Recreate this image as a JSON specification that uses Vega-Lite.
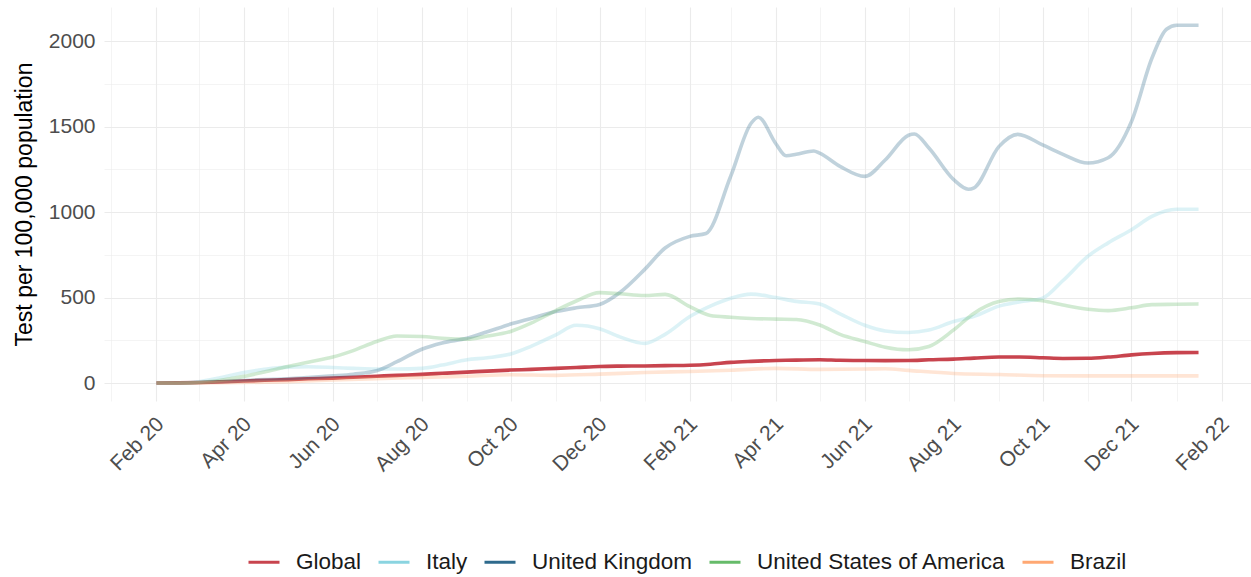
{
  "$schema": "https://vega.github.io/schema/vega-lite/v6.json",
  "width": 1147,
  "height": 394,
  "autosize": {"type": "none"},
  "padding": {"left": 104, "top": 7, "right": 0, "bottom": 176},
  "background": "white",
  "config": {"view": {"stroke": null}, "font": "Liberation Sans"},
  "data": {"values": [
    {"date":"2020-02-01","country":"Global","value":0},
    {"date":"2020-02-15","country":"Global","value":1},
    {"date":"2020-03-01","country":"Global","value":3},
    {"date":"2020-03-15","country":"Global","value":7},
    {"date":"2020-04-01","country":"Global","value":12},
    {"date":"2020-04-15","country":"Global","value":16},
    {"date":"2020-05-01","country":"Global","value":20},
    {"date":"2020-05-15","country":"Global","value":25},
    {"date":"2020-06-01","country":"Global","value":29},
    {"date":"2020-06-15","country":"Global","value":34},
    {"date":"2020-07-01","country":"Global","value":40},
    {"date":"2020-07-15","country":"Global","value":45},
    {"date":"2020-08-01","country":"Global","value":51},
    {"date":"2020-08-15","country":"Global","value":57},
    {"date":"2020-09-01","country":"Global","value":64},
    {"date":"2020-09-15","country":"Global","value":70},
    {"date":"2020-10-01","country":"Global","value":76},
    {"date":"2020-10-15","country":"Global","value":80},
    {"date":"2020-11-01","country":"Global","value":86},
    {"date":"2020-11-15","country":"Global","value":91},
    {"date":"2020-12-01","country":"Global","value":97},
    {"date":"2020-12-15","country":"Global","value":99},
    {"date":"2021-01-01","country":"Global","value":100},
    {"date":"2021-01-15","country":"Global","value":102},
    {"date":"2021-02-01","country":"Global","value":104},
    {"date":"2021-02-15","country":"Global","value":110},
    {"date":"2021-03-01","country":"Global","value":121},
    {"date":"2021-03-15","country":"Global","value":127},
    {"date":"2021-04-01","country":"Global","value":132},
    {"date":"2021-04-15","country":"Global","value":134},
    {"date":"2021-05-01","country":"Global","value":136},
    {"date":"2021-05-15","country":"Global","value":133},
    {"date":"2021-06-01","country":"Global","value":132},
    {"date":"2021-06-15","country":"Global","value":131},
    {"date":"2021-07-01","country":"Global","value":132},
    {"date":"2021-07-15","country":"Global","value":136},
    {"date":"2021-08-01","country":"Global","value":140},
    {"date":"2021-08-15","country":"Global","value":146},
    {"date":"2021-09-01","country":"Global","value":152},
    {"date":"2021-09-15","country":"Global","value":152},
    {"date":"2021-10-01","country":"Global","value":148},
    {"date":"2021-10-15","country":"Global","value":144},
    {"date":"2021-11-01","country":"Global","value":145},
    {"date":"2021-11-15","country":"Global","value":152},
    {"date":"2021-12-01","country":"Global","value":165},
    {"date":"2021-12-15","country":"Global","value":173},
    {"date":"2022-01-01","country":"Global","value":178},
    {"date":"2022-01-16","country":"Global","value":179},

    {"date":"2020-02-01","country":"Italy","value":0},
    {"date":"2020-02-15","country":"Italy","value":0},
    {"date":"2020-03-01","country":"Italy","value":8},
    {"date":"2020-03-15","country":"Italy","value":30},
    {"date":"2020-04-01","country":"Italy","value":62},
    {"date":"2020-04-15","country":"Italy","value":80},
    {"date":"2020-05-01","country":"Italy","value":93},
    {"date":"2020-05-15","country":"Italy","value":95},
    {"date":"2020-06-01","country":"Italy","value":91},
    {"date":"2020-06-15","country":"Italy","value":86},
    {"date":"2020-07-01","country":"Italy","value":82},
    {"date":"2020-07-15","country":"Italy","value":82},
    {"date":"2020-08-01","country":"Italy","value":86},
    {"date":"2020-08-15","country":"Italy","value":105},
    {"date":"2020-09-01","country":"Italy","value":136},
    {"date":"2020-09-15","country":"Italy","value":148},
    {"date":"2020-10-01","country":"Italy","value":170},
    {"date":"2020-10-15","country":"Italy","value":215},
    {"date":"2020-11-01","country":"Italy","value":282},
    {"date":"2020-11-15","country":"Italy","value":338},
    {"date":"2020-12-01","country":"Italy","value":318},
    {"date":"2020-12-15","country":"Italy","value":270},
    {"date":"2021-01-01","country":"Italy","value":232},
    {"date":"2021-01-15","country":"Italy","value":285},
    {"date":"2021-02-01","country":"Italy","value":389},
    {"date":"2021-02-15","country":"Italy","value":450},
    {"date":"2021-03-01","country":"Italy","value":496},
    {"date":"2021-03-15","country":"Italy","value":520},
    {"date":"2021-04-01","country":"Italy","value":500},
    {"date":"2021-04-15","country":"Italy","value":478},
    {"date":"2021-05-01","country":"Italy","value":462},
    {"date":"2021-05-15","country":"Italy","value":405},
    {"date":"2021-06-01","country":"Italy","value":338},
    {"date":"2021-06-15","country":"Italy","value":305},
    {"date":"2021-07-01","country":"Italy","value":296},
    {"date":"2021-07-15","country":"Italy","value":310},
    {"date":"2021-08-01","country":"Italy","value":360},
    {"date":"2021-08-15","country":"Italy","value":390},
    {"date":"2021-09-01","country":"Italy","value":450},
    {"date":"2021-09-15","country":"Italy","value":475},
    {"date":"2021-10-01","country":"Italy","value":497},
    {"date":"2021-10-15","country":"Italy","value":600},
    {"date":"2021-11-01","country":"Italy","value":741},
    {"date":"2021-11-15","country":"Italy","value":820},
    {"date":"2021-12-01","country":"Italy","value":897},
    {"date":"2021-12-15","country":"Italy","value":975},
    {"date":"2022-01-01","country":"Italy","value":1017},
    {"date":"2022-01-16","country":"Italy","value":1017},

    {"date":"2020-02-01","country":"United Kingdom","value":0},
    {"date":"2020-02-15","country":"United Kingdom","value":0},
    {"date":"2020-03-01","country":"United Kingdom","value":3},
    {"date":"2020-03-15","country":"United Kingdom","value":8},
    {"date":"2020-04-01","country":"United Kingdom","value":15},
    {"date":"2020-04-15","country":"United Kingdom","value":20},
    {"date":"2020-05-01","country":"United Kingdom","value":25},
    {"date":"2020-05-15","country":"United Kingdom","value":32},
    {"date":"2020-06-01","country":"United Kingdom","value":42},
    {"date":"2020-06-15","country":"United Kingdom","value":52},
    {"date":"2020-07-01","country":"United Kingdom","value":72},
    {"date":"2020-07-15","country":"United Kingdom","value":125},
    {"date":"2020-08-01","country":"United Kingdom","value":198},
    {"date":"2020-08-15","country":"United Kingdom","value":235},
    {"date":"2020-09-01","country":"United Kingdom","value":262},
    {"date":"2020-09-15","country":"United Kingdom","value":300},
    {"date":"2020-10-01","country":"United Kingdom","value":345},
    {"date":"2020-10-15","country":"United Kingdom","value":378},
    {"date":"2020-11-01","country":"United Kingdom","value":418},
    {"date":"2020-11-15","country":"United Kingdom","value":440},
    {"date":"2020-12-01","country":"United Kingdom","value":460},
    {"date":"2020-12-15","country":"United Kingdom","value":530},
    {"date":"2021-01-01","country":"United Kingdom","value":665},
    {"date":"2021-01-15","country":"United Kingdom","value":790},
    {"date":"2021-02-01","country":"United Kingdom","value":858},
    {"date":"2021-02-12","country":"United Kingdom","value":875},
    {"date":"2021-03-01","country":"United Kingdom","value":1210},
    {"date":"2021-03-15","country":"United Kingdom","value":1520},
    {"date":"2021-03-20","country":"United Kingdom","value":1555},
    {"date":"2021-04-01","country":"United Kingdom","value":1400},
    {"date":"2021-04-08","country":"United Kingdom","value":1330},
    {"date":"2021-04-15","country":"United Kingdom","value":1338},
    {"date":"2021-04-27","country":"United Kingdom","value":1358},
    {"date":"2021-05-01","country":"United Kingdom","value":1345},
    {"date":"2021-05-15","country":"United Kingdom","value":1268},
    {"date":"2021-06-01","country":"United Kingdom","value":1209},
    {"date":"2021-06-15","country":"United Kingdom","value":1305},
    {"date":"2021-07-01","country":"United Kingdom","value":1450},
    {"date":"2021-07-05","country":"United Kingdom","value":1457},
    {"date":"2021-07-15","country":"United Kingdom","value":1375},
    {"date":"2021-08-01","country":"United Kingdom","value":1190},
    {"date":"2021-08-11","country":"United Kingdom","value":1134},
    {"date":"2021-08-15","country":"United Kingdom","value":1142},
    {"date":"2021-09-01","country":"United Kingdom","value":1383},
    {"date":"2021-09-14","country":"United Kingdom","value":1455},
    {"date":"2021-10-01","country":"United Kingdom","value":1393},
    {"date":"2021-10-15","country":"United Kingdom","value":1338},
    {"date":"2021-11-01","country":"United Kingdom","value":1287},
    {"date":"2021-11-15","country":"United Kingdom","value":1318},
    {"date":"2021-12-01","country":"United Kingdom","value":1530},
    {"date":"2021-12-15","country":"United Kingdom","value":1900},
    {"date":"2021-12-25","country":"United Kingdom","value":2070},
    {"date":"2022-01-01","country":"United Kingdom","value":2093},
    {"date":"2022-01-16","country":"United Kingdom","value":2093},

    {"date":"2020-02-01","country":"United States of America","value":0},
    {"date":"2020-02-15","country":"United States of America","value":0},
    {"date":"2020-03-01","country":"United States of America","value":3},
    {"date":"2020-03-15","country":"United States of America","value":15},
    {"date":"2020-04-01","country":"United States of America","value":39},
    {"date":"2020-04-15","country":"United States of America","value":65},
    {"date":"2020-05-01","country":"United States of America","value":97},
    {"date":"2020-05-15","country":"United States of America","value":122},
    {"date":"2020-06-01","country":"United States of America","value":152},
    {"date":"2020-06-15","country":"United States of America","value":190},
    {"date":"2020-07-01","country":"United States of America","value":243},
    {"date":"2020-07-15","country":"United States of America","value":275},
    {"date":"2020-08-01","country":"United States of America","value":272},
    {"date":"2020-08-15","country":"United States of America","value":262},
    {"date":"2020-09-01","country":"United States of America","value":257},
    {"date":"2020-09-15","country":"United States of America","value":275},
    {"date":"2020-10-01","country":"United States of America","value":302},
    {"date":"2020-10-15","country":"United States of America","value":350},
    {"date":"2020-11-01","country":"United States of America","value":424},
    {"date":"2020-11-15","country":"United States of America","value":480},
    {"date":"2020-12-01","country":"United States of America","value":529},
    {"date":"2020-12-15","country":"United States of America","value":522},
    {"date":"2021-01-01","country":"United States of America","value":512},
    {"date":"2021-01-15","country":"United States of America","value":519},
    {"date":"2021-02-01","country":"United States of America","value":447},
    {"date":"2021-02-15","country":"United States of America","value":395},
    {"date":"2021-03-01","country":"United States of America","value":385},
    {"date":"2021-03-15","country":"United States of America","value":378},
    {"date":"2021-04-01","country":"United States of America","value":374},
    {"date":"2021-04-15","country":"United States of America","value":372},
    {"date":"2021-05-01","country":"United States of America","value":340},
    {"date":"2021-05-15","country":"United States of America","value":285},
    {"date":"2021-06-01","country":"United States of America","value":243},
    {"date":"2021-06-15","country":"United States of America","value":210},
    {"date":"2021-07-01","country":"United States of America","value":195},
    {"date":"2021-07-15","country":"United States of America","value":214},
    {"date":"2021-08-01","country":"United States of America","value":311},
    {"date":"2021-08-15","country":"United States of America","value":409},
    {"date":"2021-09-01","country":"United States of America","value":477},
    {"date":"2021-09-15","country":"United States of America","value":492},
    {"date":"2021-10-01","country":"United States of America","value":482},
    {"date":"2021-10-15","country":"United States of America","value":457},
    {"date":"2021-11-01","country":"United States of America","value":432},
    {"date":"2021-11-15","country":"United States of America","value":424},
    {"date":"2021-12-01","country":"United States of America","value":440},
    {"date":"2021-12-15","country":"United States of America","value":459},
    {"date":"2022-01-01","country":"United States of America","value":461},
    {"date":"2022-01-16","country":"United States of America","value":463},

    {"date":"2020-02-01","country":"Brazil","value":0},
    {"date":"2020-03-01","country":"Brazil","value":1},
    {"date":"2020-04-01","country":"Brazil","value":3},
    {"date":"2020-05-01","country":"Brazil","value":8},
    {"date":"2020-06-01","country":"Brazil","value":18},
    {"date":"2020-07-01","country":"Brazil","value":26},
    {"date":"2020-08-01","country":"Brazil","value":33},
    {"date":"2020-09-01","country":"Brazil","value":40},
    {"date":"2020-10-01","country":"Brazil","value":49},
    {"date":"2020-11-01","country":"Brazil","value":45},
    {"date":"2020-12-01","country":"Brazil","value":52},
    {"date":"2021-01-01","country":"Brazil","value":62},
    {"date":"2021-02-01","country":"Brazil","value":68},
    {"date":"2021-03-01","country":"Brazil","value":75},
    {"date":"2021-04-01","country":"Brazil","value":86},
    {"date":"2021-05-01","country":"Brazil","value":80},
    {"date":"2021-06-01","country":"Brazil","value":82},
    {"date":"2021-06-15","country":"Brazil","value":84},
    {"date":"2021-07-01","country":"Brazil","value":74},
    {"date":"2021-08-01","country":"Brazil","value":56},
    {"date":"2021-09-01","country":"Brazil","value":50},
    {"date":"2021-10-01","country":"Brazil","value":43},
    {"date":"2021-11-01","country":"Brazil","value":42},
    {"date":"2021-12-01","country":"Brazil","value":42},
    {"date":"2022-01-01","country":"Brazil","value":42},
    {"date":"2022-01-16","country":"Brazil","value":42}
  ]},
  "layer": [
    {
      "transform": [{"filter": "datum.country === 'Global'"}],
      "mark": {"type": "line", "interpolate": "monotone", "strokeWidth": 3.6},
      "encoding": {
        "x": {
          "field": "date", "type": "temporal",
          "scale": {"type": "utc", "domain": [{"year": 2019, "month": 12, "date": 27, "utc": true}, {"year": 2022, "month": 2, "date": 21, "utc": true}]},
          "axis": {
            "orient": "bottom", "title": null, "format": "%b %y",
            "values": [
              {"year": 2020, "month": 2, "date": 1, "utc": true},
              {"year": 2020, "month": 4, "date": 1, "utc": true},
              {"year": 2020, "month": 6, "date": 1, "utc": true},
              {"year": 2020, "month": 8, "date": 1, "utc": true},
              {"year": 2020, "month": 10, "date": 1, "utc": true},
              {"year": 2020, "month": 12, "date": 1, "utc": true},
              {"year": 2021, "month": 2, "date": 1, "utc": true},
              {"year": 2021, "month": 4, "date": 1, "utc": true},
              {"year": 2021, "month": 6, "date": 1, "utc": true},
              {"year": 2021, "month": 8, "date": 1, "utc": true},
              {"year": 2021, "month": 10, "date": 1, "utc": true},
              {"year": 2021, "month": 12, "date": 1, "utc": true},
              {"year": 2022, "month": 2, "date": 1, "utc": true}
            ],
            "labelAngle": -45, "labelAlign": "right", "labelBaseline": "top",
            "labelFontSize": 21, "labelColor": "#4D4D4D", "labelFont": "Liberation Sans",
            "labelPadding": 12, "labelOffset": -4, "labelOverlap": false, "labelFlush": false, "labelBound": false,
            "ticks": false, "domain": false,
            "grid": true, "gridColor": "#EBEBEB", "gridWidth": 1.1
          }
        },
        "y": {
          "field": "value", "type": "quantitative",
          "scale": {"domain": [-105, 2200], "nice": false, "zero": false},
          "axis": {
            "orient": "left", "title": "Test per 100,000 population", "format": "d",
            "values": [0, 500, 1000, 1500, 2000],
            "labelFontSize": 21, "labelColor": "#4D4D4D", "labelFont": "Liberation Sans", "labelPadding": 9,
            "titleFontSize": 23, "titleColor": "#000000", "titleFont": "Liberation Sans", "titleFontWeight": "normal", "titlePadding": 12,
            "ticks": false, "domain": false,
            "grid": true, "gridColor": "#EBEBEB", "gridWidth": 1.1
          }
        },
        "color": {
          "field": "country", "type": "nominal",
          "scale": {
            "domain": ["Global", "Italy", "United Kingdom", "United States of America", "Brazil"],
            "range": ["#C8444E", "#8AD4E0", "#2E6A8C", "#66BB6A", "#FFA873"]
          },
          "legend": {
            "orient": "none", "legendX": 143, "legendY": 538, "direction": "horizontal", "columns": 5,
            "title": null, "symbolType": "stroke", "symbolSize": 961, "symbolStrokeWidth": 3, "symbolOpacity": 1,
            "labelFontSize": 22.5, "labelColor": "#1A1A1A", "labelFont": "Liberation Sans", "labelOffset": 15,
            "labelLimit": 400, "columnPadding": 10,
            "encode": {"symbols": {"update": {"opacity": {"value": 1}, "strokeOpacity": {"value": 1}}}}
          }
        }
      }
    },
    {
      "transform": [{"filter": "datum.country !== 'Global'"}],
      "mark": {"type": "line", "interpolate": "monotone", "strokeWidth": 3.6, "opacity": 0.3},
      "encoding": {
        "x": {
          "field": "date", "type": "temporal",
          "scale": {"type": "utc", "domain": [{"year": 2019, "month": 12, "date": 27, "utc": true}, {"year": 2022, "month": 2, "date": 21, "utc": true}]},
          "axis": {
            "orient": "bottom", "title": null, "labels": false, "ticks": false, "domain": false,
            "values": [
              {"year": 2020, "month": 1, "date": 1, "utc": true},
              {"year": 2020, "month": 3, "date": 1, "utc": true},
              {"year": 2020, "month": 5, "date": 1, "utc": true},
              {"year": 2020, "month": 7, "date": 1, "utc": true},
              {"year": 2020, "month": 9, "date": 1, "utc": true},
              {"year": 2020, "month": 11, "date": 1, "utc": true},
              {"year": 2021, "month": 1, "date": 1, "utc": true},
              {"year": 2021, "month": 3, "date": 1, "utc": true},
              {"year": 2021, "month": 5, "date": 1, "utc": true},
              {"year": 2021, "month": 7, "date": 1, "utc": true},
              {"year": 2021, "month": 9, "date": 1, "utc": true},
              {"year": 2021, "month": 11, "date": 1, "utc": true},
              {"year": 2022, "month": 1, "date": 1, "utc": true}
            ],
            "grid": true, "gridColor": "#EBEBEB", "gridWidth": 0.55
          }
        },
        "y": {
          "field": "value", "type": "quantitative",
          "scale": {"domain": [-105, 2200], "nice": false, "zero": false},
          "axis": {
            "orient": "left", "title": null, "labels": false, "ticks": false, "domain": false,
            "values": [250, 750, 1250, 1750],
            "grid": true, "gridColor": "#EBEBEB", "gridWidth": 0.55
          }
        },
        "color": {
          "field": "country", "type": "nominal",
          "scale": {
            "domain": ["Global", "Italy", "United Kingdom", "United States of America", "Brazil"],
            "range": ["#C8444E", "#8AD4E0", "#2E6A8C", "#66BB6A", "#FFA873"]
          }
        }
      }
    }
  ],
  "resolve": {"axis": {"x": "independent", "y": "independent"}}
}
